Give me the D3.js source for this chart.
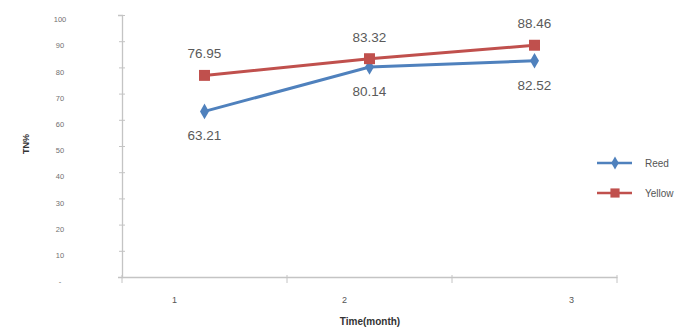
<!DOCTYPE html>
<html>
<head>
<meta charset="utf-8">
<script src="https://cdn.jsdelivr.net/npm/d3@7"></script>
<style>
  html, body { margin: 0; padding: 0; background: #fff; }
  svg { display: block; }
</style>
</head>
<body>
<div id="chart"></div>
<script>
const categories = ["1", "2", "3"];
const reedValues = [63.21, 80.14, 82.52];
const yellowValues = [76.95, 83.32, 88.46];
const seriesNames = ["Reed", "Yellow"];
const yTicks = [0, 10, 20, 30, 40, 50, 60, 70, 80, 90, 100];

const W = 678, H = 328;
const svg = d3.select("#chart").append("svg").attr("width", W).attr("height", H);

const x = d3.scaleBand().domain(categories).range([122, 617]).padding(0);
const y = d3.scaleLinear().domain([0, 100]).range([277, 15]);

const axisColor = "#c4c4c4";
const tickTextColor = "#707070";
const font = "Liberation Sans, Arial, sans-serif";

// Y axis
const yAxis = svg.append("g").attr("transform", "translate(122,0)")
  .call(d3.axisLeft(y).tickValues(yTicks).tickSize(4)
    .tickFormat(d => d === 0 ? "-" : d));
yAxis.select(".domain").attr("stroke", axisColor).attr("stroke-width", 1.3);
yAxis.selectAll(".tick line").attr("stroke", axisColor).attr("x2", 3).attr("x1", -3);
yAxis.selectAll(".tick text")
  .attr("x", -62).attr("text-anchor", "middle").attr("dy", "0.9em")
  .attr("fill", tickTextColor)
  .style("font-family", font).style("font-size", "7.5px");

// X axis
const xAxis = svg.append("g").attr("transform", "translate(0,277)")
  .call(d3.axisBottom(x).tickSize(0).tickSizeOuter(0));
xAxis.select(".domain").attr("stroke", axisColor).attr("stroke-width", 1.6);
// boundary tick marks between categories
const bounds = categories.map(c => x(c)).concat([x.range()[1]]);
svg.append("g").selectAll("line").data(bounds).join("line")
  .attr("x1", d => d).attr("x2", d => d)
  .attr("y1", 275).attr("y2", 283)
  .attr("stroke", axisColor).attr("stroke-width", 1);
const labelShift = [-30, -25, 37];
xAxis.selectAll(".tick text")
  .attr("dx", (d, i) => labelShift[i])
  .attr("y", 20)
  .attr("fill", "#555")
  .style("font-family", font).style("font-size", "9px");

// Axis titles
svg.append("text")
  .attr("transform", "translate(29,144) rotate(-90)")
  .attr("text-anchor", "middle")
  .attr("fill", "#333").style("font-weight", "bold")
  .style("font-family", font).style("font-size", "9px")
  .text("TN%");
svg.append("text")
  .attr("x", 370).attr("y", 325)
  .attr("text-anchor", "middle")
  .attr("fill", "#333").style("font-weight", "bold")
  .style("font-family", font).style("font-size", "10px")
  .text("Time(month)");

const blue = "#4f81bd", red = "#c0504d";
const cx = c => x(c) + x.bandwidth() / 2;
const line = d3.line().x((d, i) => cx(categories[i])).y(d => y(d));

const series = [
  { name: seriesNames[0], values: reedValues, color: blue, symbol: d3.symbolDiamond, size: 70, labelDy: 29 },
  { name: seriesNames[1], values: yellowValues, color: red, symbol: d3.symbolSquare, size: 120, labelDy: -17 }
];

series.forEach(s => {
  svg.append("path").datum(s.values)
    .attr("d", line).attr("fill", "none")
    .attr("stroke", s.color).attr("stroke-width", 3);
  svg.append("g").selectAll("path").data(s.values).join("path")
    .attr("transform", (d, i) => `translate(${cx(categories[i])},${y(d)})`)
    .attr("d", d3.symbol().type(s.symbol).size(s.size))
    .attr("fill", s.color);
  svg.append("g").selectAll("text").data(s.values).join("text")
    .attr("x", (d, i) => cx(categories[i]))
    .attr("y", d => y(d) + s.labelDy)
    .attr("text-anchor", "middle")
    .attr("fill", "#5a5a5a")
    .style("font-family", font).style("font-size", "13.5px")
    .text(d => d.toFixed(2));
});

// Legend
const legend = svg.append("g");
series.forEach((s, i) => {
  const ly = 163 + i * 30;
  legend.append("line").attr("x1", 597).attr("x2", 632).attr("y1", ly).attr("y2", ly)
    .attr("stroke", s.color).attr("stroke-width", 2.5);
  legend.append("path").attr("transform", `translate(615,${ly})`)
    .attr("d", d3.symbol().type(s.symbol).size(s.size * 0.7)).attr("fill", s.color);
  legend.append("text").attr("x", 645).attr("y", ly + 3.5)
    .attr("fill", "#555")
    .style("font-family", font).style("font-size", "10px")
    .text(s.name);
});
</script>
</body>
</html>
